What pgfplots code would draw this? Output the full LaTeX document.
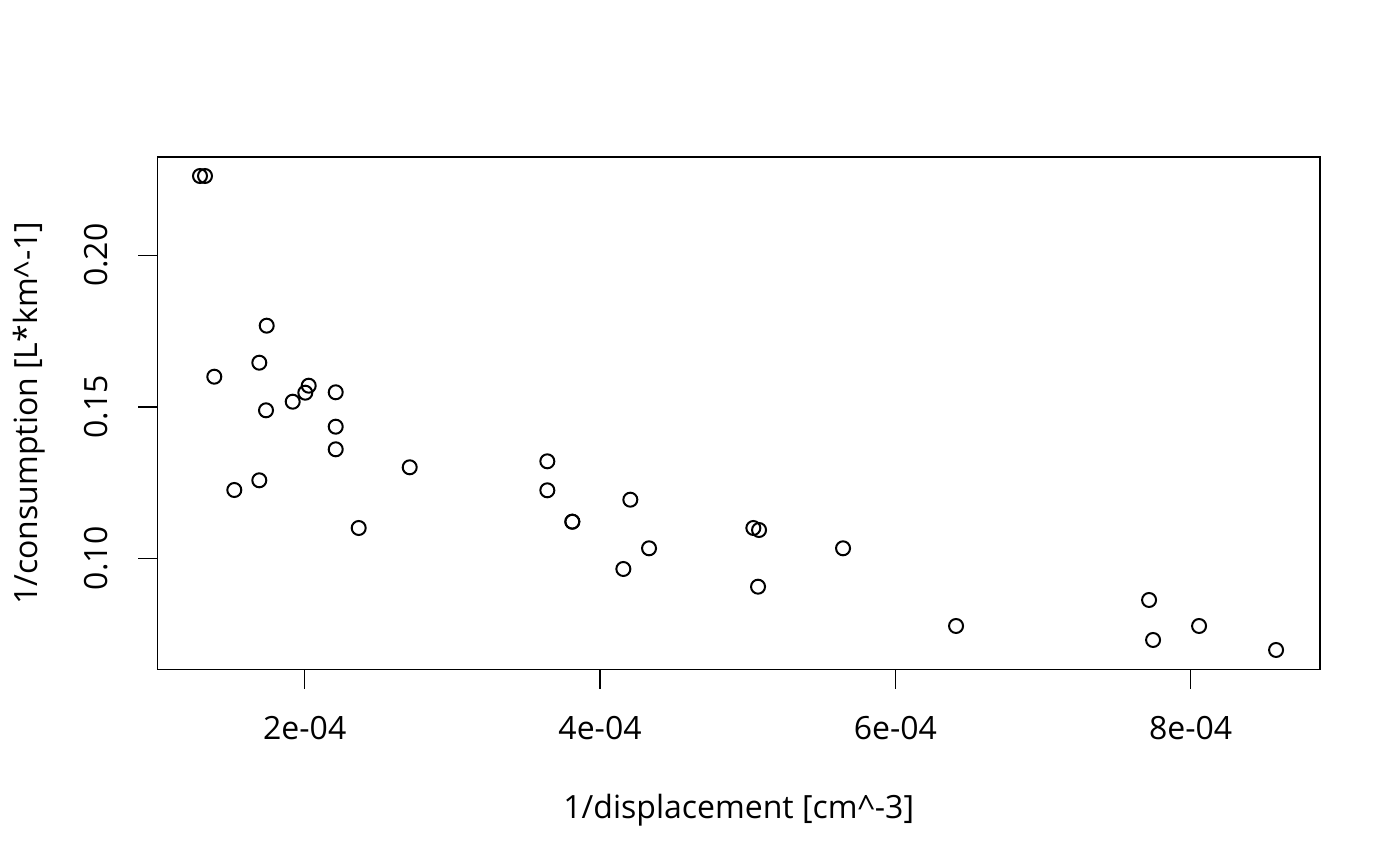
\documentclass[border=0pt]{standalone}
\usepackage{fontspec}
\setmainfont{Open Sans}
\usepackage{pgfplots}
\pgfplotsset{compat=1.18}
\begin{document}
\fontsize{16pt}{19.2pt}\selectfont
\begin{tikzpicture}
\begin{axis}[
  at={(0,0)}, anchor=south west,
  scale only axis, width=581.25pt, height=256.25pt,
  xmin=1.003e-4, xmax=8.876e-4, ymin=0.0633, ymax=0.23244,
  axis line style={line width=0.75pt},
  tick align=outside, major tick length=9.5pt,
  tick style={line width=0.75pt, black},
  xtick pos=left, ytick pos=left,
  xtick={2e-4,4e-4,6e-4,8e-4}, xticklabels={2e-04,4e-04,6e-04,8e-04},
  ytick={0.1,0.15,0.2}, yticklabels={0.10,0.15,0.20},
  scaled x ticks=false, scaled y ticks=false,
  xticklabel shift=13.5pt, yticklabel shift=15pt,
  xticklabel style={anchor=north, inner sep=0pt, font=\fontsize{16pt}{19.2pt}\selectfont},
  yticklabel style={rotate=90, anchor=south, inner sep=0pt, font=\fontsize{16pt}{19.2pt}\selectfont},
  xlabel={1/displacement [cm\^{}-3]},
  ylabel={1/consumption [L*km\^{}-1]},
  xlabel style={at={(axis description cs:0.5,-0.29034)}, anchor=base, inner sep=0pt, font=\fontsize{16pt}{19.2pt}\selectfont},
  ylabel style={at={(axis description cs:-0.1028,0.5)}, anchor=base, inner sep=0pt, rotate=0, font=\fontsize{16pt}{19.2pt}\selectfont},
  clip=false,
]
\addplot[only marks, mark=o, mark size=3.5pt, mark options={line width=1pt, black}] coordinates {
(1.2909e-4,0.22617)
(1.3248e-4,0.22617)
(1.7426e-4,0.17677)
(1.6925e-4,0.16455)
(1.3877e-4,0.15993)
(2.0271e-4,0.15696)
(2.0041e-4,0.15465)
(2.2100e-4,0.15479)
(1.9187e-4,0.15168)
(1.7379e-4,0.14884)
(2.2100e-4,0.14343)
(2.2100e-4,0.13597)
(3.6431e-4,0.13201)
(2.7111e-4,0.13003)
(1.6925e-4,0.12574)
(1.5232e-4,0.12254)
(3.6431e-4,0.12244)
(4.2052e-4,0.11934)
(3.8124e-4,0.11208)
(3.8124e-4,0.11208)
(2.3657e-4,0.11000)
(5.0383e-4,0.11000)
(5.0769e-4,0.10934)
(4.3319e-4,0.10330)
(5.6458e-4,0.10330)
(4.1578e-4,0.09647)
(5.0701e-4,0.09063)
(7.7183e-4,0.08624)
(6.4111e-4,0.07766)
(8.0569e-4,0.07766)
(7.7454e-4,0.07304)
(8.5784e-4,0.06974)
};
\end{axis}
\pgfresetboundingbox
\useasboundingbox (current axis.south west) ++(-78.75pt,-98.25pt) rectangle ++(700pt,433pt);
\end{tikzpicture}
\end{document}
